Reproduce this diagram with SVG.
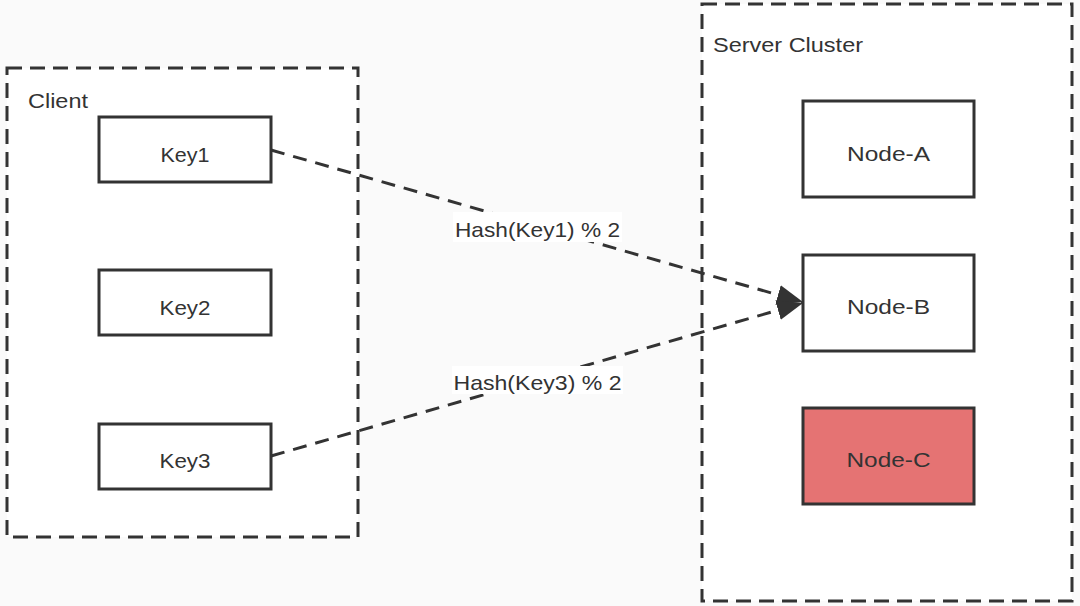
<svg xmlns="http://www.w3.org/2000/svg" width="1080" height="606" viewBox="0 0 1080 606">
  <defs>
    <style>
      .container { fill: #ffffff; stroke: #333333; stroke-width: 3; stroke-dasharray: 15 8; }
      .node { fill: #ffffff; stroke: #333333; stroke-width: 3; }
      .node.down { fill: #e57373; }
      .txt { font-family: "Liberation Sans", Arial, sans-serif; font-size: 21px; fill: #333333; }
      .mid { text-anchor: middle; }
      .edge { fill: none; stroke: #333333; stroke-width: 3; stroke-dasharray: 14 9; }
      .lblbg { fill: #ffffff; }
    </style>
    <marker id="arrow" markerUnits="userSpaceOnUse" markerWidth="28" markerHeight="22" refX="26" refY="11" orient="auto" viewBox="0 0 28 22">
      <path d="M0,1 L26,11 L0,21 Z" fill="#333333"/>
    </marker>
  </defs>
  <rect x="0" y="0" width="1080" height="606" fill="#fafafa"/>

  <g id="client">
    <rect class="container" x="7" y="68" width="351" height="469"/>
    <text class="txt" x="28" y="108" textLength="60" lengthAdjust="spacingAndGlyphs">Client</text>
  </g>
  <g id="server-cluster">
    <rect class="container" x="702" y="4" width="370" height="597"/>
    <text class="txt" x="713" y="52" textLength="150" lengthAdjust="spacingAndGlyphs">Server Cluster</text>
  </g>

  <g id="key1">
    <rect class="node" x="99" y="117" width="172" height="65"/>
    <text class="txt mid" x="185" y="162" textLength="49" lengthAdjust="spacingAndGlyphs">Key1</text>
  </g>
  <g id="key2">
    <rect class="node" x="99" y="270" width="172" height="65"/>
    <text class="txt mid" x="185" y="315" textLength="51" lengthAdjust="spacingAndGlyphs">Key2</text>
  </g>
  <g id="key3">
    <rect class="node" x="99" y="424" width="172" height="65"/>
    <text class="txt mid" x="185" y="468" textLength="51" lengthAdjust="spacingAndGlyphs">Key3</text>
  </g>

  <g id="node-a">
    <rect class="node" x="803" y="101" width="171" height="96"/>
    <text class="txt mid" x="888.5" y="161" textLength="83" lengthAdjust="spacingAndGlyphs">Node-A</text>
  </g>
  <g id="node-b">
    <rect class="node" x="803" y="255" width="171" height="96"/>
    <text class="txt mid" x="888.5" y="314" textLength="83" lengthAdjust="spacingAndGlyphs">Node-B</text>
  </g>
  <g id="node-c">
    <rect class="node down" x="803" y="408" width="171" height="96"/>
    <text class="txt mid" x="888.5" y="467" textLength="84" lengthAdjust="spacingAndGlyphs">Node-C</text>
  </g>

  <g id="connectors">
    <g id="edge-key1-nodeb">
      <line class="edge" x1="271" y1="150" x2="803" y2="302" marker-end="url(#arrow)"/>
      <rect class="lblbg" x="453" y="212" width="169" height="30"/>
      <text class="txt mid" x="537.5" y="237" textLength="165" lengthAdjust="spacingAndGlyphs">Hash(Key1) % 2</text>
    </g>
    <g id="edge-key3-nodeb">
      <line class="edge" x1="271" y1="456" x2="803" y2="303" marker-end="url(#arrow)"/>
      <rect class="lblbg" x="452" y="366" width="171" height="28"/>
      <text class="txt mid" x="537.5" y="390" textLength="168" lengthAdjust="spacingAndGlyphs">Hash(Key3) % 2</text>
    </g>
  </g>
</svg>
